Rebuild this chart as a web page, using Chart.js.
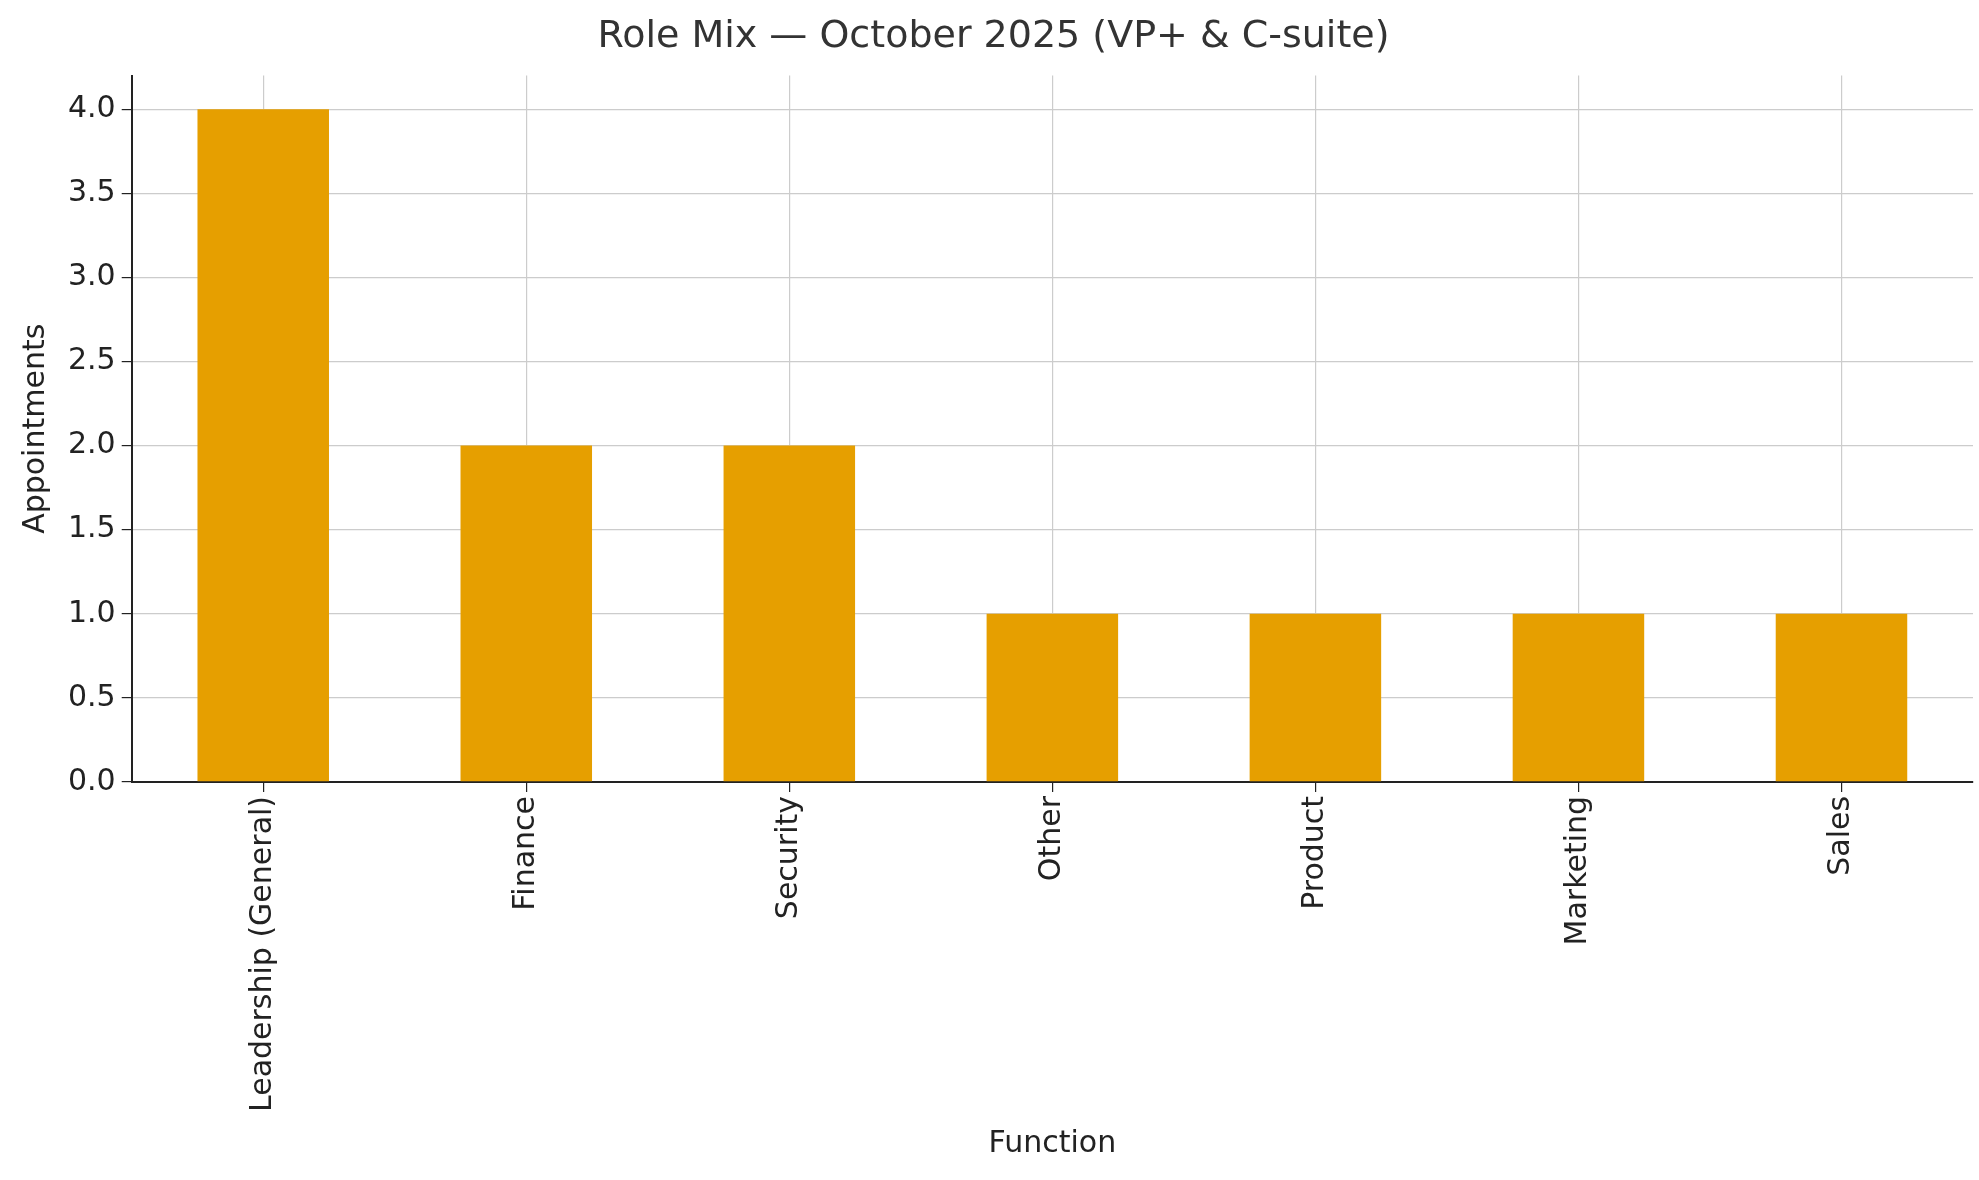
<!DOCTYPE html>
<html>
<head>
<meta charset="utf-8">
<script src="https://cdn.jsdelivr.net/npm/chart.js@4"></script>
<style>
  html, body { margin: 0; padding: 0; background: #fff; }
  #wrap { width: 1979px; height: 1180px; }
</style>
</head>
<body>
<div id="wrap"><canvas id="chart"></canvas></div>
<script>
const categories = ['Leadership (General)', 'Finance', 'Security', 'Other', 'Product', 'Marketing', 'Sales']
const appointments = [4, 2, 2, 1, 1, 1, 1]
const yTicks = [0, 0.5, 1, 1.5, 2, 2.5, 3, 3.5, 4]

const font = 'DejaVu Sans'

new Chart(document.getElementById('chart'), {
  type: 'bar',
  data: {
    labels: categories,
    datasets: [{
      label: 'Appointments',
      data: appointments,
      backgroundColor: '#E69F00',
      categoryPercentage: 1,
      barPercentage: 0.5
    }]
  },
  options: {
    responsive: true,
    maintainAspectRatio: false,
    animation: false,
    layout: { padding: { top: 14, right: 6, left: 14, bottom: 14 } },
    plugins: {
      legend: { display: false },
      title: {
        display: true,
        text: 'Role Mix — October 2025 (VP+ & C-suite)',
        color: '#333',
        font: { family: font, size: 38, weight: 'normal' },
        padding: { top: 0, bottom: 16 }
      }
    },
    scales: {
      x: {
        grid: {
          offset: false,
          color: '#cccccc', lineWidth: 1.2, tickLength: 10,
          tickColor: '#222'
        },
        border: { color: '#222', width: 2 },
        ticks: {
          color: '#222', maxRotation: 90, minRotation: 90,
          font: { family: font, size: 30 }, padding: 4
        },
        title: {
          display: true, text: 'Function', color: '#222',
          font: { family: font, size: 30 }, padding: { top: 10 }
        }
      },
      y: {
        min: 0, max: 4.2,
        afterBuildTicks: axis => { axis.ticks = yTicks.map(v => ({ value: v })) },
        grid: { color: '#cccccc', lineWidth: 1.2, tickLength: 10, tickColor: '#222' },
        border: { color: '#222', width: 2 },
        ticks: {
          color: '#222', font: { family: font, size: 30 }, padding: 6,
          callback: v => v.toFixed(1)
        },
        title: {
          display: true, text: 'Appointments', color: '#222',
          font: { family: font, size: 30 }, padding: { bottom: 8 }
        }
      }
    }
  },
  plugins: [{
    id: 'dashGrid',
    beforeDraw: chart => {
      Object.values(chart.scales).forEach(s => {
        s.options.grid.borderDash = [6, 4]
      })
    }
  }]
})
</script>
</body>
</html>
